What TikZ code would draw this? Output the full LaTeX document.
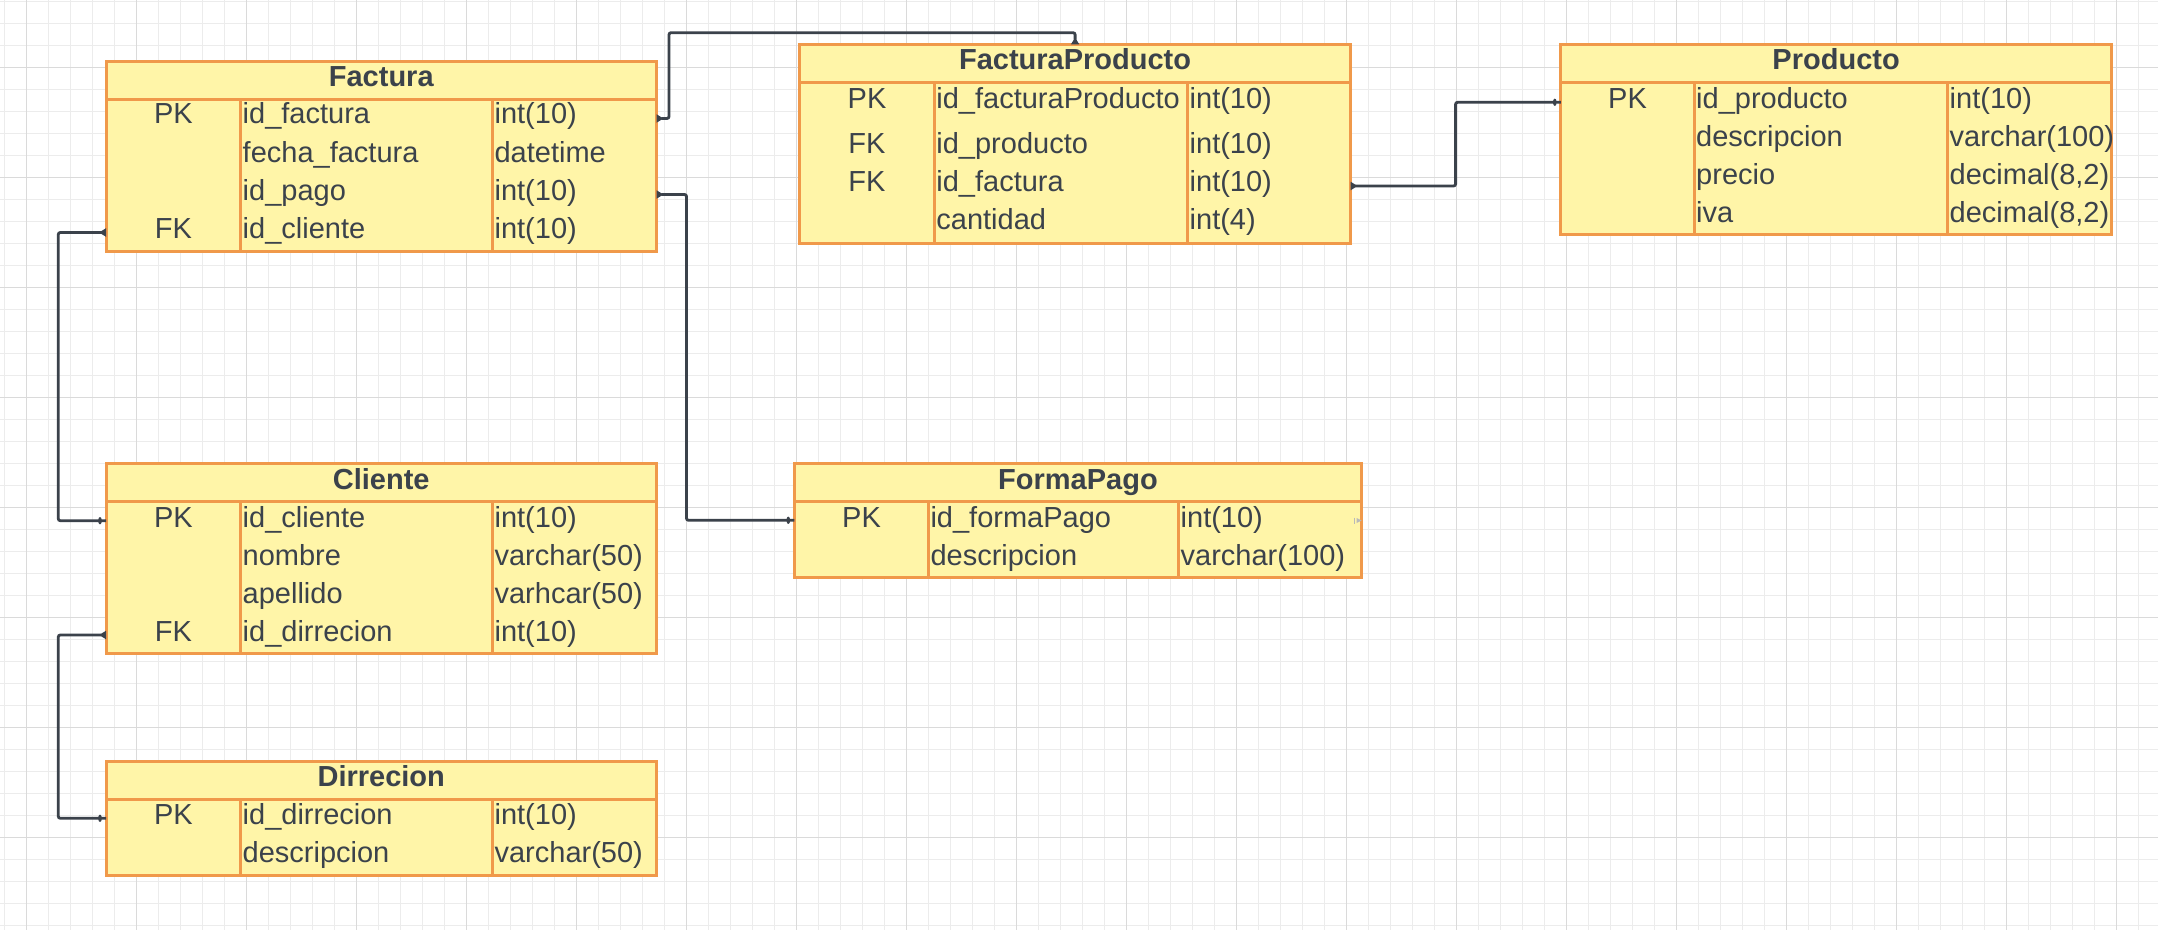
\documentclass[tikz,border=0pt]{standalone}
\usepackage{fontspec}
\setmainfont{Liberation Sans}
\usepackage{tikz}
\usetikzlibrary{arrows.meta}
\usetikzlibrary{decorations.markings}
\definecolor{erfill}{HTML}{FFF5A8}
\definecolor{erline}{HTML}{F0994A}
\definecolor{ertext}{HTML}{3B424B}
\definecolor{gridminor}{HTML}{ECECEC}
\definecolor{gridmajor}{HTML}{DADADA}
\tikzset{
	entity box/.style={rectangle,draw=erline,fill=erfill,line width=1.5pt,
		anchor=north west,inner sep=0pt,outer sep=0pt},
	divider/.style={draw=erline,line width=1.5pt},
	title text/.style={font=\fontsize{14.5}{17}\selectfont\bfseries,text=ertext,anchor=base,inner sep=0pt},
	key text/.style={font=\fontsize{14.5}{17}\selectfont,text=ertext,anchor=base,inner sep=0pt},
	field text/.style={font=\fontsize{14.5}{17}\selectfont,text=ertext,anchor=base west,inner sep=0pt},
	fk tip/.tip={Triangle[reversed,length=3.5pt,width=4pt]},
	link/.style={draw=ertext,line width=1.4pt,rounded corners=1pt},
	pk bar/.style={postaction={decorate,decoration={markings,
		mark=at position -3pt with {\fill[ertext] (-0.8pt,-1.8pt) rectangle (0.8pt,1.8pt);}}}}
}

\begin{document}
\begin{tikzpicture}[x=0.5pt,y=-0.5pt]
	\useasboundingbox (0,0) rectangle (2158,930);
	\fill[white] (0,0) rectangle (2158,930);
	% grid
	\foreach \i in {0,...,98} \draw[gridminor,line width=0.55pt] (4.3+22*\i,0) -- ++(0,930);
	\foreach \j in {0,...,42} \draw[gridminor,line width=0.55pt] (0,1.3+22*\j) -- ++(2158,0);
	\foreach \i in {0,...,19} \draw[gridmajor,line width=0.7pt] (26.3+110*\i,0) -- ++(0,930);
	\foreach \j in {0,...,7} \draw[gridmajor,line width=0.7pt] (0,67.3+110*\j) -- ++(2158,0);

	% Factura
	\node[entity box,minimum width=275.25pt,minimum height=95pt] (fac) at (106,61.5) {};
	\draw[divider] (fac.west |- 0,99.5) -- (fac.east |- 0,99.5);
	\draw[divider] (240.8,99.5) -- (240.8,0 |- fac.south);
	\draw[divider] (492.7,99.5) -- (492.7,0 |- fac.south);
	\node[title text] (fac-t) at (fac.north |- 0,86.7) {Factura};
	\foreach \k/\f/\t/\y [count=\r] in {PK/id\_factura/int(10)/124, /fecha\_factura/datetime/162.3,
		/id\_pago/int(10)/200.5, FK/id\_cliente/int(10)/238.5}{
		\node[key text] (fac-k\r) at (173.4,\y) {\k};
		\node[field text] (fac-f\r) at (242.3,\y) {\f};
		\node[field text] (fac-d\r) at (494.2,\y) {\t};
	}

	% Cliente
	\node[entity box,minimum width=275.25pt,minimum height=94.75pt] (cli) at (106,464) {};
	\draw[divider] (cli.west |- 0,502) -- (cli.east |- 0,502);
	\draw[divider] (240.8,502) -- (240.8,0 |- cli.south);
	\draw[divider] (492.7,502) -- (492.7,0 |- cli.south);
	\node[title text] (cli-t) at (cli.north |- 0,489) {Cliente};
	\foreach \k/\f/\t/\y [count=\r] in {PK/id\_cliente/int(10)/527.3, /nombre/varchar(50)/565,
		/apellido/varhcar(50)/603, FK/id\_dirrecion/int(10)/641}{
		\node[key text] (cli-k\r) at (173.4,\y) {\k};
		\node[field text] (cli-f\r) at (242.3,\y) {\f};
		\node[field text] (cli-d\r) at (494.2,\y) {\t};
	}

	% Dirrecion
	\node[entity box,minimum width=275.25pt,minimum height=57.2pt] (dir) at (106,761.3) {};
	\draw[divider] (dir.west |- 0,799.5) -- (dir.east |- 0,799.5);
	\draw[divider] (240.8,799.5) -- (240.8,0 |- dir.south);
	\draw[divider] (492.7,799.5) -- (492.7,0 |- dir.south);
	\node[title text] (dir-t) at (dir.north |- 0,786.7) {Dirrecion};
	\foreach \k/\f/\t/\y [count=\r] in {PK/id\_dirrecion/int(10)/824.3, /descripcion/varchar(50)/862}{
		\node[key text] (dir-k\r) at (173.4,\y) {\k};
		\node[field text] (dir-f\r) at (242.3,\y) {\f};
		\node[field text] (dir-d\r) at (494.2,\y) {\t};
	}

	% FacturaProducto
	\node[entity box,minimum width=275.5pt,minimum height=99.35pt] (fpr) at (799.6,44.5) {};
	\draw[divider] (fpr.west |- 0,82.3) -- (fpr.east |- 0,82.3);
	\draw[divider] (934.5,82.3) -- (934.5,0 |- fpr.south);
	\draw[divider] (1187.8,82.3) -- (1187.8,0 |- fpr.south);
	\node[title text] (fpr-t) at (fpr.north |- 0,70) {FacturaProducto};
	\foreach \k/\f/\t/\y [count=\r] in {PK/id\_facturaProducto/int(10)/108.3, FK/id\_producto/int(10)/153.7,
		FK/id\_factura/int(10)/191.7, /cantidad/int(4)/229.3}{
		\node[key text] (fpr-k\r) at (867,\y) {\k};
		\node[field text] (fpr-f\r) at (936,\y) {\f};
		\node[field text] (fpr-d\r) at (1189.3,\y) {\t};
	}

	% Producto
	\node[entity box,minimum width=275.3pt,minimum height=95pt] (pro) at (1560.8,44.5) {};
	\draw[divider] (pro.west |- 0,82.5) -- (pro.east |- 0,82.5);
	\draw[divider] (1694.3,82.5) -- (1694.3,0 |- pro.south);
	\draw[divider] (1947.8,82.5) -- (1947.8,0 |- pro.south);
	\node[title text] (pro-t) at (pro.north |- 0,70) {Producto};
	\foreach \k/\f/\t/\y [count=\r] in {PK/id\_producto/int(10)/108.3, /descripcion/varchar(100)/146.3,
		/precio/{decimal(8,2)}/184.3, /iva/{decimal(8,2)}/222.3}{
		\node[key text] (pro-k\r) at (1627.5,\y) {\k};
		\node[field text] (pro-f\r) at (1695.8,\y) {\f};
		\node[field text] (pro-d\r) at (1949.3,\y) {\t};
	}

	% FormaPago
	\node[entity box,minimum width=283.7pt,minimum height=56.65pt] (fpg) at (794.3,464) {};
	\draw[divider] (fpg.west |- 0,502) -- (fpg.east |- 0,502);
	\draw[divider] (928.6,502) -- (928.6,0 |- fpg.south);
	\draw[divider] (1178.8,502) -- (1178.8,0 |- fpg.south);
	\node[title text] (fpg-t) at (fpg.north |- 0,489) {FormaPago};
	\foreach \k/\f/\t/\y [count=\r] in {PK/id\_formaPago/int(10)/527.3, /descripcion/varchar(100)/565}{
		\node[key text] (fpg-k\r) at (861.5,\y) {\k};
		\node[field text] (fpg-f\r) at (930.1,\y) {\f};
		\node[field text] (fpg-d\r) at (1180.3,\y) {\t};
	}
	\fill[gray!55] (fpg.east |- 0,520.5) -- ++(-5,-2.5) -- ++(0,5) -- cycle;
	\draw[gray!55,line width=0.4pt] (fpg.east |- 0,520.5) ++(-7,-3) -- ++(0,6);

	% relations
	\draw[link,fk tip-fk tip] (fac.east |- 0,118.5) -- ++(12.5,0) |- (fpr.north |- 0,32.7) -- (fpr.north);
	\draw[link,pk bar,fk tip-] (fac.east |- 0,194.5) -- ++(30,0) |- (fpg.west |- 0,520.3);
	\draw[link,pk bar,fk tip-] (fac.west |- 0,232.5) -- ++(-47.7,0) |- (cli.west |- 0,520.7);
	\draw[link,pk bar,fk tip-] (cli.west |- 0,635) -- ++(-47.7,0) |- (dir.west |- 0,818.3);
	\draw[link,pk bar,fk tip-] (fpr.east |- 0,186) -- ++(105,0) |- (pro.west |- 0,102.3);
\end{tikzpicture}
\end{document}
